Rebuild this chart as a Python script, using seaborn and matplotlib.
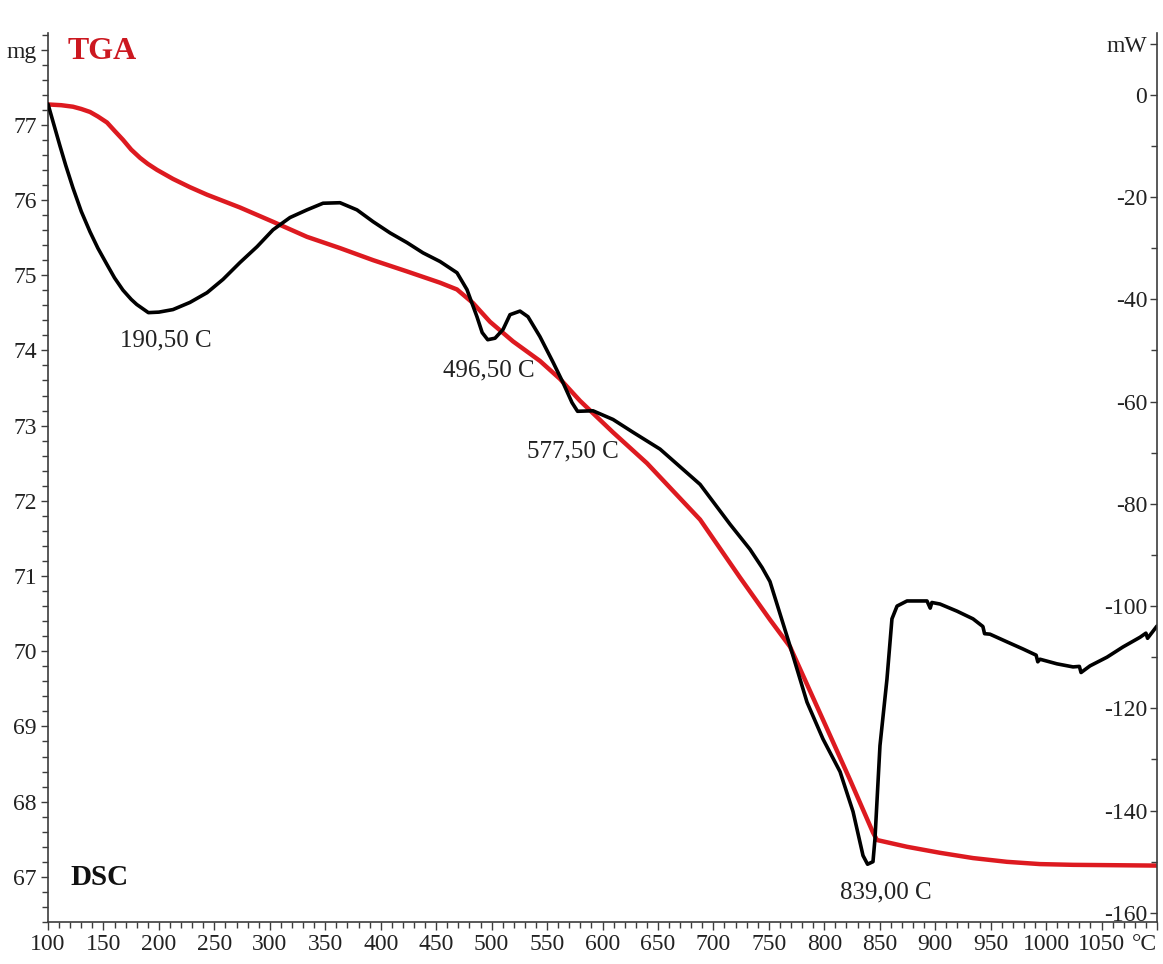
import matplotlib
matplotlib.use("Agg")
import matplotlib.pyplot as plt
from matplotlib.ticker import MultipleLocator
import pandas as pd
import seaborn as sns

# --- TGA: sample mass (mg) versus temperature (°C) ---
tga_temperature = [100, 112.0, 122.5, 130.0, 137.9, 145.0, 153.2, 160.0, 167.6, 175.0,
                   183.0, 190.0, 198.3, 212.7, 228.0, 243.4,
                   273.1, 302.9, 333.5, 363.3, 393.1, 423.7, 453.5, 468.8, 483.2, 498.6,
                   519.3, 543.6, 561.7, 579.7, 609.5, 640.1, 688.0, 724.0, 751.0, 769.1,
                   798.8, 823.2, 843.9, 847.5, 874.6, 904.3, 934.1, 964.7, 994.5, 1024.3,
                   1100]
tga_mass = [77.27, 77.26, 77.24, 77.21, 77.17, 77.11, 77.03, 76.92, 76.80, 76.67,
            76.56, 76.48, 76.40, 76.28, 76.17, 76.07,
            75.90, 75.71, 75.51, 75.36, 75.20, 75.05, 74.90, 74.81, 74.63, 74.38,
            74.12, 73.86, 73.62, 73.33, 72.91, 72.50, 71.75, 70.98, 70.42, 70.06,
            69.09, 68.29, 67.59, 67.49, 67.40, 67.32, 67.25, 67.20, 67.17, 67.16,
            67.15]

# --- DSC: heat flow (mW) versus temperature (°C) ---
dsc_temperature = [100, 105.0, 110.8, 116.0, 122.5, 130.0, 137.9, 145.0, 153.2, 160.0,
                   167.6, 175.0, 180.0, 190.5, 200.0, 212.7,
                   228.0, 243.4, 257.8, 273.1, 288.5, 302.9, 318.2, 333.5, 348.0, 363.3,
                   378.6, 393.1, 408.4, 423.7, 438.1, 453.5, 468.8, 477.8, 486.8, 491.5,
                   496.5, 503.1, 510.3, 516.6, 525.6, 532.8, 543.6, 555.4, 564.4, 572.5,
                   577.5, 591.4, 609.5, 627.5, 651.9, 688.0, 715.0, 733.0, 744.0, 751.0,
                   769.1, 784.4, 798.8, 814.2, 825.9, 834.9, 839.0, 843.9, 845.7, 850.2,
                   856.5, 861.0, 865.6, 874.6, 892.6, 895.5, 897.0, 904.3, 919.7, 934.1,
                   943.0, 944.5, 949.4, 964.7, 979.2, 991.0, 992.5, 994.5,
                   1009.8, 1024.3, 1030.0, 1031.5, 1039.6, 1054.9, 1069.3, 1084.7, 1090.0,
                   1091.5, 1100]
dsc_heat_flow = [-1.8, -5.6, -10.0, -13.8, -18.2, -22.8, -26.8, -30.0, -33.2, -35.8,
                 -38.2, -40.0, -41.0, -42.6, -42.5, -42.0,
                 -40.6, -38.7, -36.1, -32.8, -29.7, -26.4, -24.0, -22.5, -21.2, -21.1,
                 -22.5, -24.8, -27.0, -28.9, -30.9, -32.6, -34.8, -38.1, -43.4, -46.5,
                 -47.9, -47.6, -45.9, -43.0, -42.3, -43.4, -47.3, -52.3, -56.3, -60.2,
                 -61.9, -61.8, -63.5, -66.0, -69.3, -76.2, -84.0, -88.9, -92.5, -95.2,
                 -107.8, -118.8, -126.0, -132.4, -140.2, -148.8, -150.5, -150.0, -145.5, -127.3,
                 -114.3, -102.5, -100.0, -99.0, -99.0, -100.4, -99.3, -99.6, -101.0, -102.5,
                 -104.0, -105.4, -105.5, -107.0, -108.4, -109.6, -110.9, -110.4,
                 -111.3, -111.9, -111.8, -113.0, -111.7, -110.0, -108.0, -106.1, -105.3,
                 -106.3, -103.9]

# DSC peak temperatures that get a label
peak_temperatures = [190.5, 496.5, 577.5, 839.0]

# Axis ticks and their labels (the top tick carries the unit)
temp_ticks = list(range(100, 1101, 50))
temp_labels = [str(t) for t in range(100, 1051, 50)] + ["°C"]
mass_ticks = list(range(67, 79))
mass_labels = [str(v) for v in range(67, 78)] + ["mg"]
heat_ticks = list(range(-160, 1, 20)) + [10]
heat_labels = [f"{v:d}" for v in range(-160, 1, 20)] + ["mW"]

RED = "#dd1a20"
AXIS_GREY = "#3c3c3c"
TEXT = "#222222"

sns.set_theme(style="white")
plt.rcParams["font.family"] = ["Liberation Serif", "DejaVu Serif"]

fig = plt.figure(figsize=(11.63, 9.64), dpi=100)
W, H = 1163, 964
ax = fig.add_axes([48 / W, 1 - 922 / H, (1157 - 48) / W, (922 - 33) / H])
ax2 = ax.twinx()

tga = pd.DataFrame({"Temperature": tga_temperature, "Mass": tga_mass})
dsc = pd.DataFrame({"Temperature": dsc_temperature, "HeatFlow": dsc_heat_flow})

sns.lineplot(data=tga, x="Temperature", y="Mass", ax=ax, color=RED,
             linewidth=3.2, sort=False, estimator=None)
sns.lineplot(data=dsc, x="Temperature", y="HeatFlow", ax=ax2, color="black",
             linewidth=2.6, sort=False, estimator=None)

ax.set_xlim(100, 1100)
ax.set_ylim(66.40, 78.22)
ax2.set_ylim(-161.8, 12.1)

ax.set_xlabel("")
ax.set_ylabel("")
ax2.set_ylabel("")

for a in (ax, ax2):
    a.grid(False)
    a.spines["top"].set_visible(False)
    for s in a.spines.values():
        s.set_color(AXIS_GREY)
        s.set_linewidth(1.2)
ax.spines["right"].set_visible(False)
ax2.spines["left"].set_visible(False)
ax2.spines["bottom"].set_visible(False)

TICK_SIZE = 17

# Temperature axis
ax.set_xticks(temp_ticks, temp_labels)
ax.xaxis.set_minor_locator(MultipleLocator(10))
ax.tick_params(axis="x", which="both", bottom=True, direction="out",
               color=AXIS_GREY, width=1.0, labelsize=TICK_SIZE, labelcolor=TEXT, pad=3)
ax.tick_params(axis="x", which="major", length=6)
ax.tick_params(axis="x", which="minor", length=4)
unit_label = ax.xaxis.get_major_ticks()[-1].label1
unit_label.set_horizontalalignment("right")

# Mass axis (left)
ax.set_yticks(mass_ticks, mass_labels)
ax.yaxis.set_minor_locator(MultipleLocator(0.2))
ax.tick_params(axis="y", which="both", left=True, direction="out",
               color=AXIS_GREY, width=1.0, labelsize=TICK_SIZE, labelcolor=TEXT, pad=3)
ax.tick_params(axis="y", which="major", length=5)
ax.tick_params(axis="y", which="minor", length=4)

# Heat-flow axis (right), labels sit inside the frame
ax2.set_yticks(heat_ticks, heat_labels)
ax2.yaxis.set_minor_locator(MultipleLocator(10))
ax2.tick_params(axis="y", which="both", right=True, direction="in",
                color=AXIS_GREY, width=1.0, labelsize=TICK_SIZE, labelcolor=TEXT, pad=-7)
ax2.tick_params(axis="y", which="major", length=5)
ax2.tick_params(axis="y", which="minor", length=4)
for tick in ax2.yaxis.get_major_ticks():
    tick.label2.set_horizontalalignment("right")

# Peak labels below each DSC minimum
label_offsets = [(17, -28), (1, -31), (-5, -40), (18, -28)]
for t, (dx, dy) in zip(peak_temperatures, label_offsets):
    q = dsc_heat_flow[dsc_temperature.index(t)]
    text = f"{t:.2f}".replace(".", ",") + " C"
    ax2.annotate(text, xy=(t, q), xytext=(dx, dy), textcoords="offset pixels",
                 ha="center", va="center", fontsize=18, color=TEXT)

ax.text(0.018, 0.979, "TGA", transform=ax.transAxes, fontsize=23,
        fontweight="bold", color="#cc1820", ha="left", va="center")
ax.text(0.020, 0.050, "DSC", transform=ax.transAxes, fontsize=21,
        fontweight="bold", color="#111111", ha="left", va="center")

fig.savefig("out.png", dpi=100, facecolor="white")
